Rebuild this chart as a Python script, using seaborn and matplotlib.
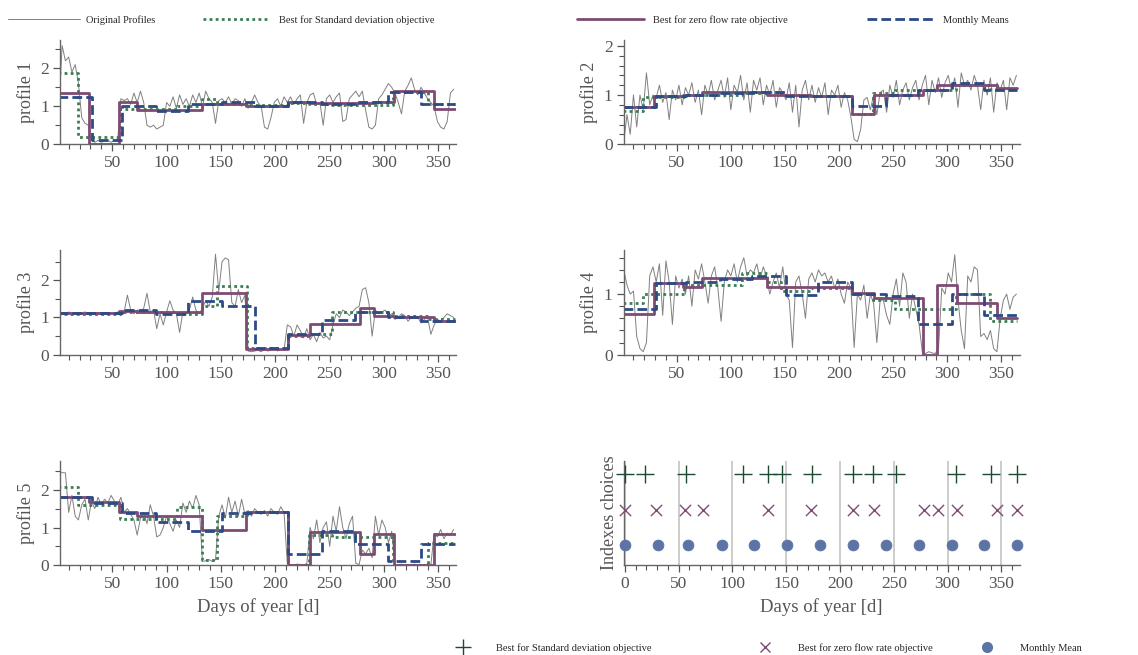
import numpy as np
import matplotlib.pyplot as plt
from matplotlib.lines import Line2D
from matplotlib.ticker import MultipleLocator
import seaborn as sns

sns.set_theme(style='ticks')
plt.rcParams['font.family'] = ['Liberation Serif', 'DejaVu Serif']

# sampled days of the original profiles (every 3rd day)
days = np.arange(1, 366, 3)

profile1 = [1.0, 2.6, 2.2, 2.3, 1.9, 2.1, 1.6, 0.7, 0.55, 0.5,
            0.1, 0.05, 0.1, 0.05, 0.08, 0.1, 0.05, 0.1, 0.08,
            1.2, 1.15, 1.2, 1.05, 1.35, 1.1, 1.4, 1.1, 0.5, 0.45, 0.5,
            0.4, 0.45, 0.5, 1.1, 1.0, 1.25, 0.95, 1.3, 1.05, 1.2,
            1.0, 1.3, 1.1, 1.35, 1.0, 1.4, 1.2, 1.1, 0.55, 1.15,
            1.2, 1.1, 1.25, 1.05, 1.2, 1.15, 1.0, 1.2, 0.95, 1.1,
            1.3, 1.1, 1.0, 0.45, 0.4, 0.7, 1.1, 1.2, 1.0, 1.25,
            1.1, 1.25, 1.05, 1.2, 1.3, 0.55, 1.1, 1.3, 1.35, 1.05,
            1.1, 0.5, 1.2, 1.3, 1.1, 1.25, 1.35, 0.6, 0.65, 1.2,
            1.3, 1.4, 1.25, 1.4, 0.9, 0.45, 0.4, 0.5, 1.2, 1.3,
            1.45, 1.6, 1.5, 1.35, 1.1, 0.8, 1.4, 1.55, 1.75, 1.45,
            1.3, 1.5, 1.35, 1.2, 1.1, 1.0, 0.6, 0.45, 0.4, 0.6,
            1.35, 1.45]
profile2 = [0.05, 0.6, 0.2, 1.0, 0.35, 1.0, 0.7, 1.45, 0.8, 1.0,
            0.95, 1.2, 0.85, 1.05, 0.5, 1.1, 0.9, 1.2, 0.8, 1.15,
            1.0, 1.25, 0.85, 1.1, 0.6, 1.2, 1.0, 1.3, 0.9, 1.1,
            1.3, 0.95, 1.35, 0.7, 1.2, 1.05, 1.4, 0.9, 1.25, 0.65,
            1.3, 1.1, 1.35, 0.8, 1.2, 1.0, 1.3, 0.75, 1.15, 1.05,
            0.9, 1.25, 0.65, 1.2, 0.35, 1.1, 1.3, 0.9, 1.2, 0.85,
            1.15, 0.95, 1.25, 0.6, 1.1, 1.0, 1.2, 0.75, 1.05, 0.9,
            0.55, 0.1, 0.05, 0.3, 0.9, 0.95, 0.7, 1.0, 0.6, 1.05,
            1.1, 0.65, 1.2, 0.95, 1.3, 0.8, 1.1, 1.25, 0.9, 1.15,
            1.3, 0.9, 1.2, 1.4, 0.8, 1.3, 1.05, 1.35, 0.95, 1.25,
            1.4, 1.1, 1.35, 0.75, 1.45, 1.2, 1.3, 1.1, 1.4, 1.2,
            0.7, 1.3, 1.0, 1.35, 0.65, 1.25, 1.1, 1.3, 0.7, 1.35,
            1.2, 1.4]
profile3 = [1.05, 1.12, 1.08, 1.15, 1.1, 1.13, 1.07, 1.12, 1.15, 1.1,
            1.12, 1.1, 1.14, 1.08, 1.12, 1.1, 1.13, 1.09, 1.15, 1.05,
            1.15, 1.6, 1.2, 1.1, 1.2, 1.15, 1.25, 1.65, 1.15, 1.2,
            0.7, 1.1, 0.8, 1.15, 1.45, 1.2, 1.1, 0.6, 1.15, 1.1,
            1.2, 1.55, 1.2, 1.1, 1.25, 1.45, 1.3, 1.55, 2.7, 1.7,
            2.5, 2.6, 2.55, 1.4, 1.3, 1.75, 1.4, 1.6, 0.1, 0.08,
            0.1, 0.12, 0.08, 0.15, 0.1, 0.12, 0.18, 0.1, 0.15, 0.12,
            0.8, 0.75, 0.5, 0.8, 0.65, 0.45, 0.7, 0.4, 0.55, 0.35,
            0.6, 0.45, 0.5, 0.4, 0.8, 1.1, 1.0, 1.2, 1.15, 1.05,
            1.15, 1.25, 1.3, 1.75, 1.8, 1.4, 0.5, 1.2, 1.1, 1.15,
            1.2, 1.05, 1.1, 0.95, 1.0, 1.1, 1.05, 0.9, 1.0, 1.05,
            1.0, 0.85, 0.95, 1.0, 0.55, 0.8, 0.95, 0.9, 1.0, 1.1,
            1.05, 1.0]
profile4 = [1.4, 1.15, 1.0, 1.05, 0.3, 0.1, 0.05, 0.2, 1.3, 1.45,
            1.2, 1.5, 0.65, 1.55, 1.2, 0.5, 1.3, 1.1, 1.25, 1.0,
            1.3, 0.8, 1.4, 1.25, 1.5, 1.2, 0.85, 1.3, 1.45, 1.1,
            0.55, 1.2, 1.4, 1.3, 1.5, 1.2, 1.45, 1.6, 1.3, 1.4,
            1.35, 1.5, 1.25, 1.45, 1.3, 1.0, 1.2, 1.35, 1.1, 1.45,
            1.0, 0.9, 0.12, 1.2, 1.3, 1.0, 0.6, 1.25, 1.35, 1.2,
            1.4, 1.3, 1.35, 1.2, 1.3, 1.1, 1.25, 1.0, 0.85, 1.2,
            1.1, 0.12, 1.0, 0.9, 1.15, 0.6, 1.0, 0.85, 0.2, 0.9,
            0.9, 0.65, 0.5, 1.0, 1.25, 0.8, 1.35, 1.2, 0.6, 1.0,
            0.75, 0.5, 0.05, 0.02, 0.05, 0.03, 0.02, 0.1, 1.1, 1.0,
            1.35, 1.2, 1.65, 0.9, 0.4, 0.1, 1.3, 1.2, 1.45, 1.4,
            0.3, 0.35, 0.25, 0.4, 0.1, 0.05, 0.6, 0.9, 1.0, 0.75,
            0.95, 1.0]
profile5 = [2.5, 2.45, 2.45, 1.4, 1.85, 1.3, 1.2, 1.6, 1.75, 1.2,
            1.7, 1.5, 1.8, 1.6, 1.75, 1.65, 1.85, 1.7, 1.6, 1.8,
            1.4, 1.5, 1.35, 1.2, 0.8, 1.25, 1.4, 1.1, 1.6, 1.3,
            0.75, 0.8, 1.0, 1.3, 1.1, 0.9, 1.2, 1.0, 1.65, 1.4,
            1.7, 1.5, 1.85, 1.6, 0.1, 0.12, 0.15, 0.1, 0.15, 1.3,
            1.6, 1.25, 1.8, 1.4, 1.7, 1.3, 1.75, 1.35, 1.45, 1.3,
            1.5, 1.4, 1.35, 1.45, 1.3, 1.5, 1.4, 1.35, 1.55, 1.4,
            0.05, 0.02, 0.0, 0.03, 0.02, 0.0, 0.05, 1.0, 0.7, 1.2,
            0.6, 1.0, 1.15, 0.5, 1.3, 0.9, 1.55, 1.0, 0.7, 1.1,
            1.3, 0.05, 0.02, 0.4, 0.3, 0.45, 0.2, 1.3, 0.8, 1.2,
            1.0, 0.6, 0.9, 0.02, 0.0, 0.03, 0.0, 0.02, 0.0, 0.03,
            0.0, 0.02, 0.0, 0.03, 0.0, 0.85, 0.75, 0.95, 0.7, 0.85,
            0.8, 0.95]

# segment boundaries (days) chosen by each method
std_idx = [0, 19, 57, 110, 133, 146, 174, 212, 231, 252, 308, 340, 365]
zero_idx = [0, 29, 56, 73, 133, 173, 212, 232, 278, 291, 309, 346, 365]
month_idx = [0, 31, 59, 90, 120, 151, 181, 212, 243, 273, 304, 334, 365]

# segment values per profile
std_vals = [
    [1.88, 0.2, 0.93, 1.02, 1.2, 1.05, 1.03, 1.08, 1.05, 1.04, 1.38, 1.05],
    [0.67, 0.95, 1.0, 1.05, 1.07, 1.0, 0.98, 0.62, 1.05, 1.1, 1.2, 1.12],
    [1.1, 1.1, 1.15, 1.1, 1.3, 1.85, 0.18, 0.5, 0.55, 1.15, 1.05, 0.95],
    [0.85, 1.0, 1.15, 1.35, 1.2, 1.05, 1.1, 1.0, 0.9, 0.75, 1.0, 0.55],
    [2.08, 1.6, 1.23, 1.55, 0.15, 1.3, 1.4, 0.0, 0.8, 0.75, 0.02, 0.6],
]
zero_vals = [
    [1.35, 0.0, 1.12, 0.91, 1.07, 1.02, 1.1, 1.08, 1.09, 1.1, 1.4, 0.93],
    [0.75, 0.97, 1.0, 1.06, 1.0, 0.98, 0.62, 1.0, 1.1, 1.2, 1.2, 1.14],
    [1.12, 1.12, 1.18, 1.15, 1.65, 0.15, 0.52, 0.82, 1.25, 1.05, 1.0, 0.9],
    [0.68, 1.18, 1.12, 1.27, 1.12, 1.12, 1.02, 0.93, 0.0, 1.15, 0.85, 0.6],
    [1.8, 1.67, 1.42, 1.3, 0.93, 1.42, 0.0, 0.87, 0.3, 0.82, 0.0, 0.82],
]
month_vals = [
    [1.25, 0.1, 1.02, 0.87, 1.07, 1.1, 1.0, 1.1, 1.05, 1.1, 1.38, 1.05],
    [0.75, 0.98, 1.0, 1.05, 1.07, 0.98, 0.98, 0.77, 1.0, 1.1, 1.25, 1.1],
    [1.12, 1.12, 1.2, 1.1, 1.45, 1.3, 0.18, 0.55, 0.92, 1.15, 1.0, 0.9],
    [0.75, 1.18, 1.2, 1.25, 1.3, 0.98, 1.2, 1.0, 0.97, 0.5, 1.0, 0.65],
    [1.8, 1.65, 1.38, 1.15, 0.9, 1.38, 1.42, 0.3, 0.92, 0.57, 0.12, 0.55],
]

profiles = [profile1, profile2, profile3, profile4, profile5]
ylims = [2.75, 2.12, 2.8, 1.72, 2.76]
yminor = [0.5, 0.2, 0.5, 0.2, 0.5]
ymajor = [1, 1, 1, 1, 1]

c_orig = '#808080'
c_std = '#3b7d53'
c_zero = '#7e4b73'
c_month = '#2b4a86'
c_dot = '#5b74a5'
c_plus = '#1f4a32'
txt = '#555555'

fig, axes = plt.subplots(3, 2, figsize=(11.38, 6.55), dpi=100)
fig.subplots_adjust(left=0.0527, right=0.896, top=0.939, bottom=0.137,
                    wspace=0.424, hspace=1.02)
order = [axes[0, 0], axes[0, 1], axes[1, 0], axes[1, 1], axes[2, 0]]


def style_axis(ax):
    sns.despine(ax=ax)
    for s in ['left', 'bottom']:
        ax.spines[s].set_color('#666666')
        ax.spines[s].set_linewidth(1.0)
    ax.xaxis.set_major_locator(MultipleLocator(50))
    ax.xaxis.set_minor_locator(MultipleLocator(10))
    ax.tick_params(which='major', length=5, width=0.9, color=txt,
                   labelcolor=txt, labelsize=12.5, pad=3)
    ax.tick_params(which='minor', length=3.5, width=0.8, color=txt)


for k, ax in enumerate(order):
    sns.lineplot(x=days, y=profiles[k], ax=ax, color=c_orig, lw=0.7,
                 estimator=None, sort=False)
    sns.lineplot(x=std_idx, y=std_vals[k] + [std_vals[k][-1]], ax=ax,
                 color=c_std, lw=2, linestyle=(0, (1, 1.2)),
                 drawstyle='steps-post', estimator=None, sort=False)
    sns.lineplot(x=zero_idx, y=zero_vals[k] + [zero_vals[k][-1]], ax=ax,
                 color=c_zero, lw=2, drawstyle='steps-post',
                 estimator=None, sort=False)
    sns.lineplot(x=month_idx, y=month_vals[k] + [month_vals[k][-1]], ax=ax,
                 color=c_month, lw=2, linestyle=(0, (3.5, 1.5)),
                 drawstyle='steps-post', estimator=None, sort=False)
    style_axis(ax)
    if k % 2 == 0:
        ax.set_xlim(2, 366)
    else:
        ax.set_xlim(1, 367)
    ax.set_ylim(0, ylims[k])
    ax.yaxis.set_major_locator(MultipleLocator(ymajor[k]))
    ax.yaxis.set_minor_locator(MultipleLocator(yminor[k]))
    ax.set_ylabel(f'profile {k + 1}', fontsize=13, color=txt)
    ax.set_xlabel('')

axes[2, 0].set_xlabel('Days of year [d]', fontsize=13.5, color=txt)

# index choices panel
ax = axes[2, 1]
ax.grid(axis='x', which='major', color='#c4c4c4', lw=1.2)
ax.set_axisbelow(True)
sns.scatterplot(x=std_idx, y=[3] * len(std_idx), ax=ax, marker='+', s=150,
                color=c_plus, linewidth=1.0, clip_on=False, zorder=3)
sns.scatterplot(x=zero_idx, y=[2] * len(zero_idx), ax=ax, marker='x', s=65,
                color=c_zero, linewidth=1.0, clip_on=False, zorder=3)
sns.scatterplot(x=month_idx, y=[1] * len(month_idx), ax=ax, marker='o', s=60,
                color=c_dot, edgecolor=c_dot, clip_on=False, zorder=3)
style_axis(ax)
ax.set_xlim(-1, 367)
ax.set_ylim(0.44, 3.37)
ax.set_yticks([])
ax.set_ylabel('Indexes choices', fontsize=13, color=txt)
ax.set_xlabel('Days of year [d]', fontsize=13.5, color=txt)

# top legend, four entries spread across the width
top_items = [
    (Line2D([], [], color=c_orig, lw=0.7), 'Original Profiles', 8, 6.9, 0.6),
    (Line2D([], [], color=c_std, lw=2, ls=(0, (1, 1.2))),
     'Best for Standard deviation objective', 203, 6.4, 0.85),
    (Line2D([], [], color=c_zero, lw=2), 'Best for zero flow rate objective', 577, 6.4, 0.9),
    (Line2D([], [], color=c_month, lw=2, ls=(0, (3.5, 1.5))), 'Monthly Means', 867, 6.4, 0.9),
]
for h, lab, x0, hl, tp in top_items:
    fig.legend(handles=[h], labels=[lab], loc='center left',
               bbox_to_anchor=(x0 / 1138, 1 - 20 / 655), frameon=False,
               fontsize=7.5, handlelength=hl, handletextpad=tp,
               borderpad=0, borderaxespad=0)

# bottom legend for the markers
bot_items = [
    (Line2D([], [], ls='', marker='+', ms=12, mew=1.0, color=c_plus),
     'Best for Standard deviation objective', 463),
    (Line2D([], [], ls='', marker='x', ms=7.5, mew=1.0, color=c_zero),
     'Best for zero flow rate objective', 765),
    (Line2D([], [], ls='', marker='o', ms=7, color=c_dot),
     'Monthly Mean', 987),
]
for h, lab, xc in bot_items:
    fig.legend(handles=[h], labels=[lab], loc='center left',
               bbox_to_anchor=((xc - 8) / 1138, 1 - 648 / 655), frameon=False,
               fontsize=7.5, handlelength=1.5, handletextpad=2.4,
               borderpad=0, borderaxespad=0)

plt.savefig('out.png', dpi=100)
